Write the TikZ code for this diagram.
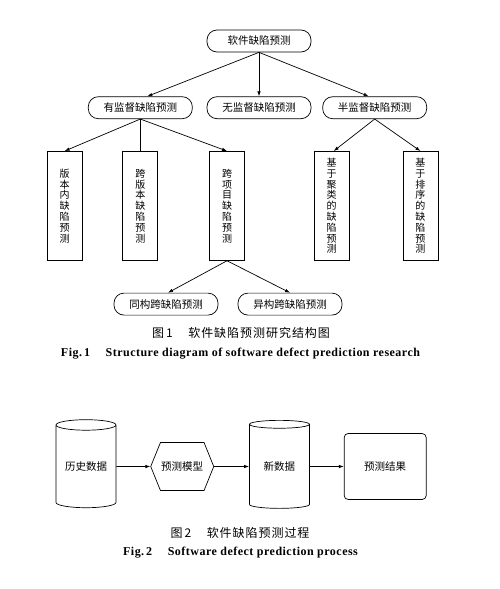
\documentclass[tikz,border=0pt]{standalone}
\usepackage{fontspec}
\setmainfont{Liberation Serif}
\newfontfamily\zhfont{Noto Sans CJK SC}
\newfontfamily\zhcap[LetterSpace=8]{Noto Sans CJK SC}
\newfontfamily\encap[LetterSpace=4]{Liberation Serif}
\usetikzlibrary{arrows.meta,positioning,shapes.geometric,shapes.symbols}

\begin{document}
\begin{tikzpicture}[
  x=1pt,y=1pt,
  font=\zhfont\fontsize{10.5}{11}\selectfont,
  pill/.style={rounded corners=10pt,draw,line width=.7pt,minimum width=104pt,
    minimum height=22pt,inner sep=0pt},
  tallbox/.style={draw,line width=.7pt,minimum width=35pt,minimum height=109pt,
    text width=12pt,align=center,inner sep=0pt,font=\zhfont\fontsize{10}{10.8}\selectfont},
  database/.style={cylinder,shape border rotate=90,aspect=0.25,draw,line width=.7pt,
    minimum width=60pt,minimum height=88pt,inner sep=0pt},
  model/.style={signal,signal to=east and west,signal pointer angle=136,draw,
    line width=.7pt,minimum width=63pt,minimum height=48pt,inner sep=0pt},
  result/.style={rounded corners=4pt,draw,line width=.7pt,minimum width=82pt,
    minimum height=66pt},
  arrow/.style={-{Latex[length=5pt,width=3.5pt]},line width=.7pt},
  link/.style={line width=.7pt},
  zhcaption/.style={font=\zhcap\fontsize{12}{14}\selectfont},
  encaption/.style={font=\encap\bfseries\fontsize{12}{14}\selectfont}
]
\useasboundingbox (0,0) rectangle (500,-589);

% Fig. 1
\node[pill] (root) at (259,-41) {软件缺陷预测};
\node[pill,below=44pt of root] (unsup) {无监督缺陷预测};
\node[pill,left=14pt of unsup] (sup) {有监督缺陷预测};
\node[pill,right=11pt of unsup] (semi) {半监督缺陷预测};

\node[tallbox,below=32pt of sup] (crossver) {跨\\版\\本\\缺\\陷\\预\\测};
\node[tallbox,left=40pt of crossver] (within) {版\\本\\内\\缺\\陷\\预\\测};
\node[tallbox,right=51pt of crossver] (crossproj) {跨\\项\\目\\缺\\陷\\预\\测};
\node[tallbox,right=69pt of crossproj] (cluster) {基\\于\\聚\\类\\的\\缺\\陷\\预\\测};
\node[tallbox,right=53pt of cluster] (rank) {基\\于\\排\\序\\的\\缺\\陷\\预\\测};

\node[pill,below=32pt of crossproj,xshift=-61pt] (homo) {同构跨缺陷预测};
\node[pill,below=32pt of crossproj,xshift=63pt] (hetero) {异构跨缺陷预测};

\node[zhcaption] (cap1) at (241,-333) {图\,1\hspace{1.3em}软件缺陷预测研究结构图};
\node[encaption] (en1) at (240.5,-354) {Fig.\,1\hspace{1.3em}Structure diagram of software defect prediction research};

\draw[arrow] (root.south) -- ([xshift=7pt]sup.north);
\draw[arrow] (root.south) -- (unsup.north);
\draw[arrow] (root.south) -- ([xshift=-6pt]semi.north);
\draw[arrow] (sup.south) -- (within.north);
\draw[link] (sup.south) -- (crossver.north);
\draw[arrow] (sup.south) -- (crossproj.north);
\draw[arrow] (semi.south) -- ([xshift=2pt]cluster.north);
\draw[arrow] (semi.south) -- (rank.north);
\draw[arrow] (crossproj.south) -- ([xshift=2pt]homo.north);
\draw[arrow] (crossproj.south) -- (hetero.north);

% Fig. 2
\node[database] (history) at (86,-466.5) {历史数据};
\node[model,right=34pt of history] (model) {预测模型};
\node[database,right=35pt of model] (newdata) {新数据};
\node[result,right=34pt of newdata] (outcome) {预测结果};

\node[zhcaption] (cap2) at (240,-533) {图\,2\hspace{1.3em}软件缺陷预测过程};
\node[encaption] (en2) at (240.5,-553) {Fig.\,2\hspace{1.3em}Software defect prediction process};

\draw[arrow] (history) -- (model);
\draw[arrow] (model) -- (newdata);
\draw[arrow] (newdata) -- (outcome);
\end{tikzpicture}
\end{document}
